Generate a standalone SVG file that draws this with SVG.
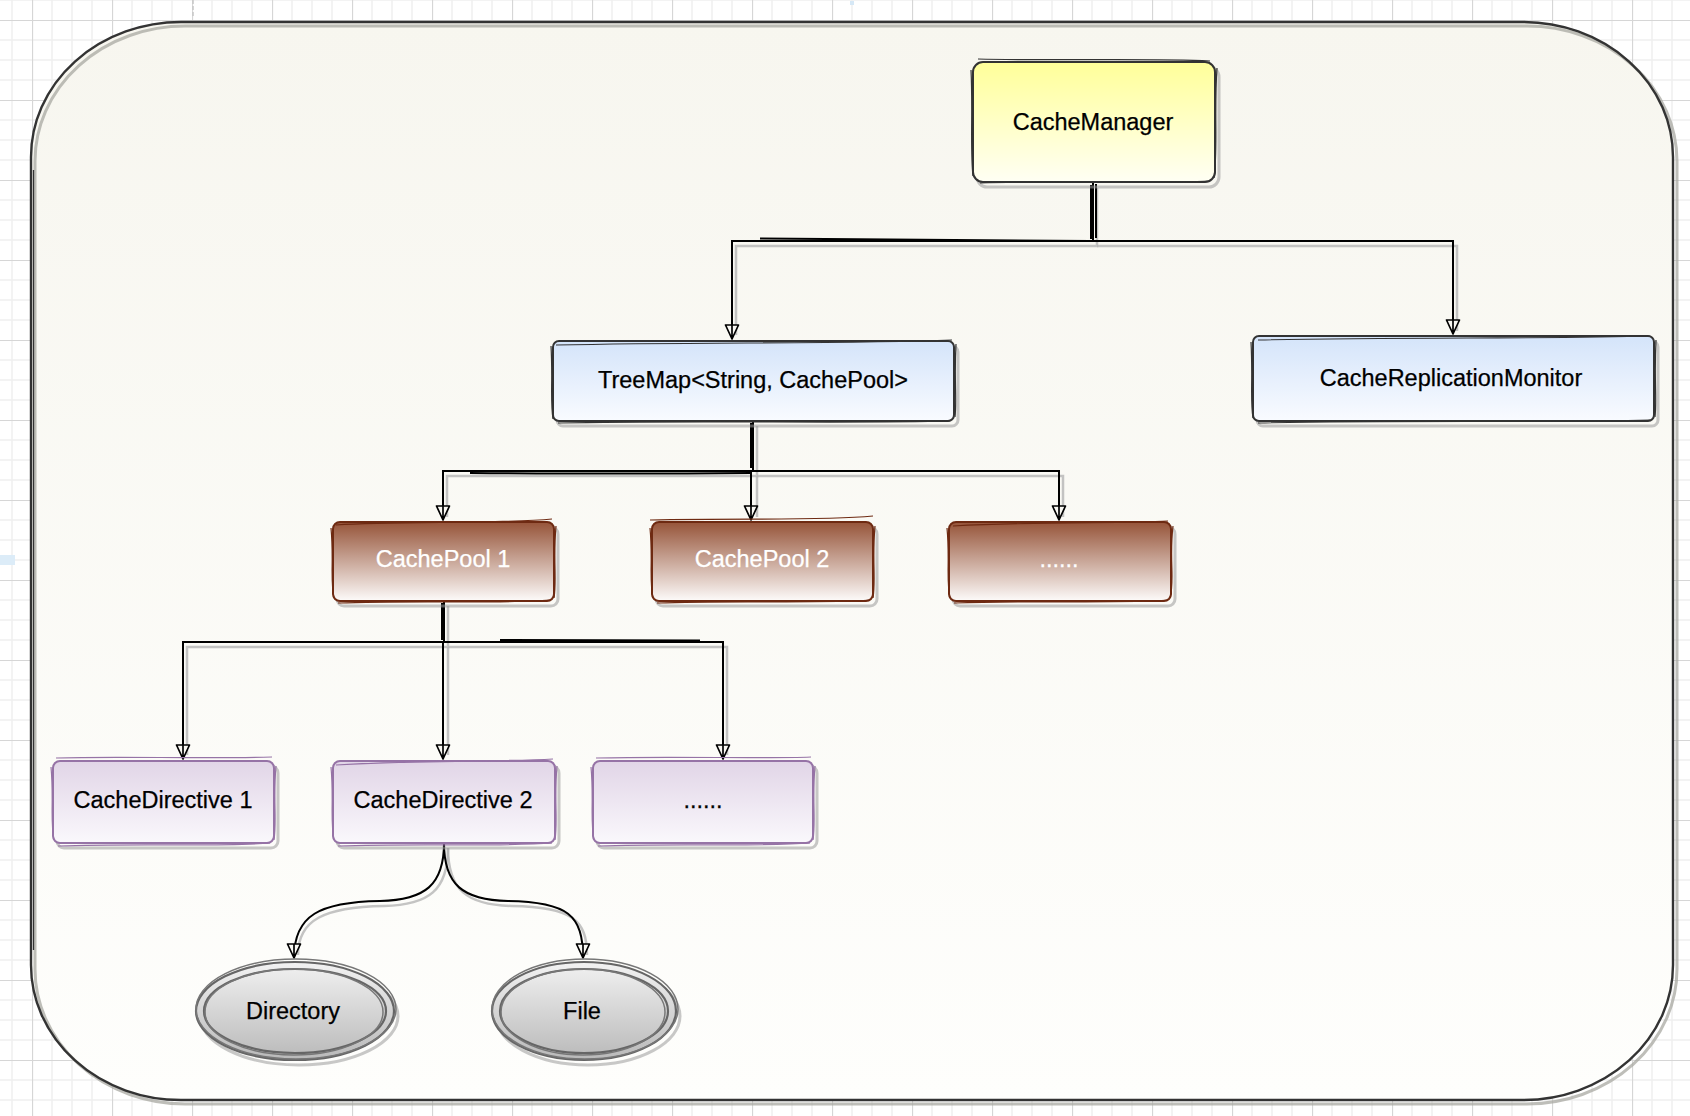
<svg xmlns="http://www.w3.org/2000/svg" width="1690" height="1116" viewBox="0 0 1690 1116">
<style>
  .lbl{font-family:"Liberation Sans",Arial,sans-serif;font-size:23.5px;text-anchor:middle;fill:#000;stroke:#000;stroke-width:0.25;}
  .wht{fill:#fff;stroke:#fff;}
  .sh{fill:none;stroke:#9a9a9a;stroke-opacity:.55;stroke-width:3;}
  .dk{fill:none;stroke:#333;stroke-width:2;}
  .dk2{fill:none;stroke:#333;stroke-width:1.2;}
  .br{fill:none;stroke:#6e2a12;stroke-width:2;}
  .br2{fill:none;stroke:#6e2a12;stroke-width:1.2;}
  .pu{fill:none;stroke:#9673a6;stroke-width:2;}
  .pu2{fill:none;stroke:#9673a6;stroke-width:1.2;}
  .gy{fill:none;stroke:#666;stroke-width:2.2;}
  .gy2{fill:none;stroke:#777;stroke-width:1.5;}
  .conn{fill:none;stroke:#000;stroke-width:2;}
  .connsh{fill:none;stroke:#b5b5b5;stroke-width:2.5;stroke-opacity:.8;}
</style>
<defs>
  <pattern id="grid" x="32" y="20" width="80" height="80" patternUnits="userSpaceOnUse">
    <rect width="80" height="80" fill="#fff"/>
    <path d="M20 0V80M40 0V80M60 0V80M0 20H80M0 40H80M0 60H80" stroke="#efefef" stroke-width="1.5"/>
    <path d="M0.5 0V80M0 0.5H80" stroke="#d6d6d6" stroke-width="1.2"/>
  </pattern>
  <linearGradient id="gCont" x1="0" y1="0" x2="0" y2="1">
    <stop offset="0" stop-color="#f7f6ef"/>
    <stop offset="1" stop-color="#fefefc"/>
  </linearGradient>
  <linearGradient id="gYel" x1="0" y1="0" x2="0" y2="1">
    <stop offset="0" stop-color="#ffff99"/>
    <stop offset="1" stop-color="#fffff4"/>
  </linearGradient>
  <linearGradient id="gBlu" x1="0" y1="0" x2="0" y2="1">
    <stop offset="0" stop-color="#d4e4fa"/>
    <stop offset="1" stop-color="#f9fbff"/>
  </linearGradient>
  <linearGradient id="gBrn" x1="0" y1="0" x2="0" y2="1">
    <stop offset="0" stop-color="#965439"/>
    <stop offset="1" stop-color="#fdfbfa"/>
  </linearGradient>
  <linearGradient id="gPur" x1="0" y1="0" x2="0" y2="1">
    <stop offset="0" stop-color="#e1d5e7"/>
    <stop offset="1" stop-color="#faf8fc"/>
  </linearGradient>
  <linearGradient id="gGry" x1="0" y1="0" x2="0" y2="1">
    <stop offset="0" stop-color="#f2f2f2"/>
    <stop offset="1" stop-color="#b9b9b9"/>
  </linearGradient>
  <marker id="arr" viewBox="0 0 16 16" markerWidth="16" markerHeight="16" refX="15" refY="8" orient="auto" markerUnits="userSpaceOnUse">
    <path d="M1,1.5 L15,8 L1,14.5 Z M1,8 L15,8" fill="#f9f8f3" stroke="#000" stroke-width="1.7" stroke-linejoin="round"/>
  </marker>
</defs>

<!-- background grid -->
<rect x="0" y="0" width="1690" height="1116" fill="url(#grid)"/>
<rect x="0" y="555" width="15" height="10" fill="#dcecf8"/>
<path d="M193 0V17" stroke="#c8c8c8" stroke-width="1.5" stroke-dasharray="4 2"/>
<path d="M852 1V5" stroke="#d6e8f6" stroke-width="4"/>

<!-- container -->
<g id="container">
  <rect x="31" y="22" width="1642" height="1078" rx="150" ry="135" fill="url(#gCont)"/>
  <rect x="35" y="26" width="1642" height="1078" rx="150" ry="135" fill="none" stroke="#a8a8a2" stroke-opacity=".75" stroke-width="3"/>
  <rect x="31" y="22" width="1642" height="1078" rx="150" ry="135" fill="none" stroke="#333" stroke-width="2.4"/>
  <path d="M33.5 170 V950" fill="none" stroke="#333" stroke-width="1.3"/>
</g>

<!-- connectors -->
<g id="connectors">
  <g transform="translate(4,5)">
    <path class="connsh" d="M1093,183 V241 H732 V330"/>
    <path class="connsh" d="M1093,241 H1453 V326"/>
    <path class="connsh" d="M753,421 V471 H443 V512"/>
    <path class="connsh" d="M753,471 V512"/>
    <path class="connsh" d="M753,471 H1059 V512"/>
    <path class="connsh" d="M444,601 V642 H183 V750"/>
    <path class="connsh" d="M444,642 V750"/>
    <path class="connsh" d="M444,642 H723 V750"/>
    <path class="connsh" d="M444,843 C444,885 425,900 380,901 C320,902 294,915 294,950"/>
    <path class="connsh" d="M444,843 C444,885 463,900 508,901 C568,902 583,915 583,950"/>
  </g>
  <path class="conn" d="M1093,183 V241 H732 V339" marker-end="url(#arr)"/>
  <path class="conn" d="M1093,241 H1453 V334" marker-end="url(#arr)"/>
  <path class="conn" d="M1091,185 V239 M1096,184 V238" stroke-width="1.2"/>
  <path class="conn" d="M760,238.5 C900,240 1000,240.5 1090,241" stroke-width="1.2"/>
  <path class="conn" d="M753,421 V471 H443 V520" marker-end="url(#arr)"/>
  <path class="conn" d="M753,471 H751 V520" marker-end="url(#arr)"/>
  <path class="conn" d="M753,471 H1059 V520" marker-end="url(#arr)"/>
  <path class="conn" d="M751,423 V468" stroke-width="1.2"/>
  <path class="conn" d="M470,473 C600,474 700,473.5 750,473" stroke-width="1.2"/>
  <path class="conn" d="M444,601 V642 H183 V759" marker-end="url(#arr)"/>
  <path class="conn" d="M444,642 H443 V759" marker-end="url(#arr)"/>
  <path class="conn" d="M444,642 H723 V759" marker-end="url(#arr)"/>
  <path class="conn" d="M442,603 V640" stroke-width="1.2"/>
  <path class="conn" d="M500,640 C580,640.5 640,640 700,640.5" stroke-width="1.2"/>
  <path class="conn" d="M444,843 C444,885 425,900 380,901 C320,902 294,915 294,958" marker-end="url(#arr)"/>
  <path class="conn" d="M444,843 C444,885 463,900 508,901 C568,902 583,915 583,958" marker-end="url(#arr)"/>
</g>

<!-- CacheManager -->
<g id="node-cachemanager">
  <rect x="977" y="67" width="242" height="120" rx="10" class="sh"/>
  <rect x="973" y="62" width="242" height="120" rx="10" fill="url(#gYel)"/>
  <rect x="973" y="62" width="242" height="120" rx="10" class="dk"/>
  <path class="dk2" d="M978,59 C1050,61 1150,58 1210,61 M971,70 C973,110 970,150 973,176 M1217,68 C1214,110 1218,150 1214,178 M980,183 C1060,180 1150,184 1210,181"/>
  <text class="lbl" x="1093" y="130">CacheManager</text>
</g>

<!-- TreeMap -->
<g id="node-treemap">
  <rect x="557" y="346" width="401" height="80" rx="6" class="sh"/>
  <rect x="553" y="341" width="401" height="80" rx="6" fill="url(#gBlu)"/>
  <rect x="553" y="341" width="401" height="80" rx="6" class="dk"/>
  <path class="dk2" d="M556,345 C700,342 850,344 952,340 M551,346 C553,380 550,400 553,419 M956,344 C954,380 957,400 955,417 M558,423 C700,420 850,424 950,421"/>
  <text class="lbl" x="753" y="388">TreeMap&lt;String, CachePool&gt;</text>
</g>

<!-- CacheReplicationMonitor -->
<g id="node-crm">
  <rect x="1257" y="341" width="401" height="85" rx="6" class="sh"/>
  <rect x="1253" y="336" width="401" height="85" rx="6" fill="url(#gBlu)"/>
  <rect x="1253" y="336" width="401" height="85" rx="6" class="dk"/>
  <path class="dk2" d="M1258,340 C1400,337 1550,339 1650,336 M1251,342 C1253,380 1250,400 1253,418 M1656,340 C1654,380 1657,400 1655,417 M1258,423 C1400,420 1550,423 1650,420"/>
  <text class="lbl" x="1451" y="386">CacheReplicationMonitor</text>
</g>

<!-- CachePool 1 -->
<g id="node-cachepool1">
  <rect x="337" y="527" width="221" height="79" rx="7" class="sh"/>
  <rect x="333" y="522" width="221" height="79" rx="7" fill="url(#gBrn)"/>
  <rect x="333" y="522" width="221" height="79" rx="7" class="br"/>
  <path class="br2" d="M336,525 C400,521 500,524 552,519 M331,528 C334,560 330,580 334,598 M556,526 C553,560 557,580 554,598 M338,603 C420,600 500,604 550,600"/>
  <text class="lbl wht" x="443" y="567">CachePool 1</text>
</g>

<!-- CachePool 2 -->
<g id="node-cachepool2">
  <rect x="656" y="527" width="221" height="79" rx="7" class="sh"/>
  <rect x="652" y="522" width="221" height="79" rx="7" fill="url(#gBrn)"/>
  <rect x="652" y="522" width="221" height="79" rx="7" class="br"/>
  <path class="br2" d="M650,520 C750,518 820,521 873,516 M650,528 C653,560 649,580 653,598 M875,526 C872,560 876,580 873,598 M657,603 C740,600 820,604 870,600"/>
  <text class="lbl wht" x="762" y="567">CachePool 2</text>
</g>

<!-- CachePool 3 -->
<g id="node-cachepool3">
  <rect x="953" y="527" width="222" height="79" rx="7" class="sh"/>
  <rect x="949" y="522" width="222" height="79" rx="7" fill="url(#gBrn)"/>
  <rect x="949" y="522" width="222" height="79" rx="7" class="br"/>
  <path class="br2" d="M953,526 C1050,521 1120,524 1168,521 M947,528 C950,560 946,580 950,598 M1173,526 C1169,560 1175,580 1170,598 M954,603 C1040,600 1120,604 1168,600"/>
  <text class="lbl wht" x="1059" y="567">......</text>
</g>

<!-- CacheDirective 1 -->
<g id="node-cachedirective1">
  <rect x="57" y="766" width="221" height="82" rx="7" class="sh"/>
  <rect x="53" y="761" width="221" height="82" rx="7" fill="url(#gPur)"/>
  <rect x="53" y="761" width="221" height="82" rx="7" class="pu"/>
  <path class="pu2" d="M56,758 C120,756 200,759 272,757 M51,767 C54,800 50,820 54,840 M276,766 C273,800 277,820 274,840 M58,846 C140,843 220,847 270,843"/>
  <text class="lbl" x="163" y="808">CacheDirective 1</text>
</g>

<!-- CacheDirective 2 -->
<g id="node-cachedirective2">
  <rect x="337" y="766" width="222" height="82" rx="7" class="sh"/>
  <rect x="333" y="761" width="222" height="82" rx="7" fill="url(#gPur)"/>
  <rect x="333" y="761" width="222" height="82" rx="7" class="pu"/>
  <path class="pu2" d="M336,765 C420,760 500,762 553,759 M331,767 C334,800 330,820 334,840 M557,766 C554,800 558,820 555,840 M338,846 C420,843 500,847 552,843"/>
  <text class="lbl" x="443" y="808">CacheDirective 2</text>
</g>

<!-- CacheDirective 3 -->
<g id="node-cachedirective3">
  <rect x="597" y="766" width="220" height="82" rx="7" class="sh"/>
  <rect x="593" y="761" width="220" height="82" rx="7" fill="url(#gPur)"/>
  <rect x="593" y="761" width="220" height="82" rx="7" class="pu"/>
  <path class="pu2" d="M596,758 C680,756 760,759 811,757 M591,767 C594,800 590,820 594,840 M815,766 C812,800 816,820 813,840 M598,846 C680,843 760,847 810,843"/>
  <text class="lbl" x="703" y="808">......</text>
</g>

<!-- Directory -->
<g id="node-directory">
  <ellipse cx="299" cy="1016" rx="99" ry="49" class="sh"/>
  <ellipse cx="295" cy="1011" rx="99" ry="49" fill="url(#gGry)"/>
  <ellipse cx="295" cy="1011" rx="99" ry="49" class="gy"/>
  <ellipse cx="296" cy="1009" rx="100" ry="50" class="gy2"/>
  <ellipse cx="295" cy="1011" rx="91" ry="42" class="gy"/>
  <ellipse cx="294" cy="1012" rx="89" ry="43" class="gy2"/>
  <text class="lbl" x="293" y="1019">Directory</text>
</g>

<!-- File -->
<g id="node-file">
  <ellipse cx="588" cy="1016" rx="92" ry="49" class="sh"/>
  <ellipse cx="584" cy="1011" rx="92" ry="49" fill="url(#gGry)"/>
  <ellipse cx="584" cy="1011" rx="92" ry="49" class="gy"/>
  <ellipse cx="585" cy="1009" rx="93" ry="50" class="gy2"/>
  <ellipse cx="584" cy="1011" rx="84" ry="42" class="gy"/>
  <ellipse cx="583" cy="1012" rx="82" ry="43" class="gy2"/>
  <text class="lbl" x="582" y="1019">File</text>
</g>
</svg>
